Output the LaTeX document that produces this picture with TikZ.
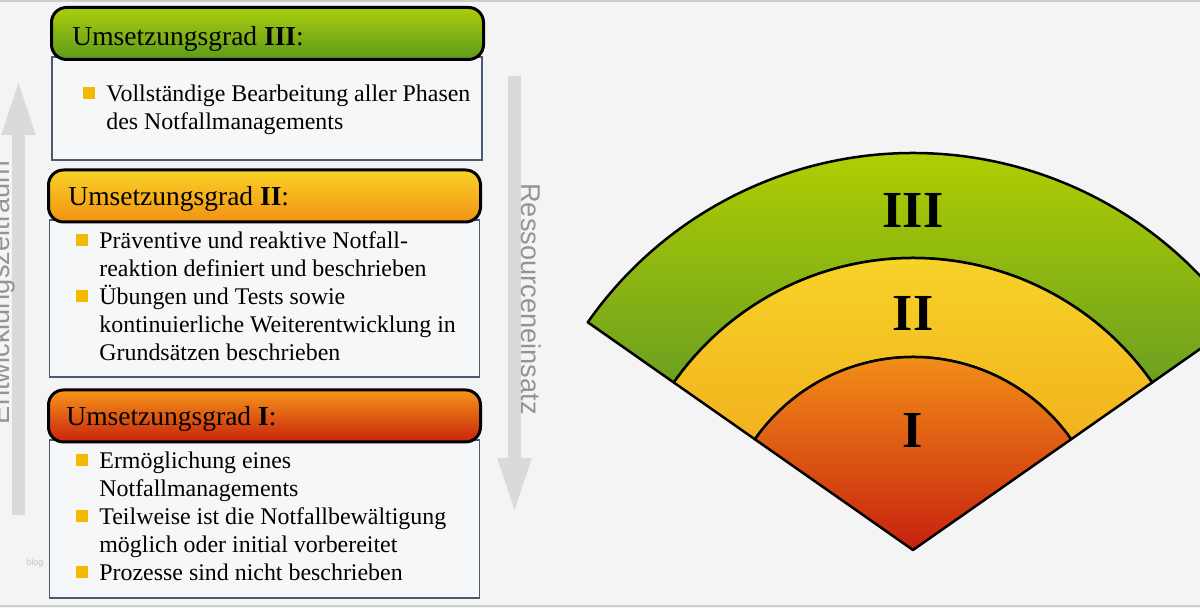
\documentclass[tikz,border=0pt]{standalone}
\usepackage{fontspec}
\setmainfont{Liberation Serif}
\setsansfont{Liberation Sans}
\usetikzlibrary{arrows.meta}
\definecolor{bgpaper}{RGB}{244,244,244}
\definecolor{framegray}{RGB}{205,205,205}
\definecolor{arrowgray}{RGB}{218,218,218}
\definecolor{labelgray}{RGB}{148,148,148}
\definecolor{bloggray}{RGB}{195,195,195}
\definecolor{boxline}{RGB}{76,90,112}
\definecolor{boxfill}{RGB}{246,247,249}
\definecolor{bulletorange}{RGB}{245,186,0}
\definecolor{limetop}{RGB}{172,206,10}
\definecolor{greenbot}{RGB}{92,154,30}
\definecolor{yellowtop}{RGB}{248,210,38}
\definecolor{orangebot}{RGB}{242,146,20}
\definecolor{orangetop}{RGB}{246,150,26}
\definecolor{redbot}{RGB}{200,34,12}
\definecolor{ringlime}{RGB}{178,208,0}
\definecolor{ringgreen}{RGB}{108,160,32}
\definecolor{ringyellow}{RGB}{247,212,40}
\definecolor{ringamber}{RGB}{242,178,30}
\definecolor{coreorange}{RGB}{243,145,24}
\definecolor{corered}{RGB}{200,32,14}
\newcommand{\sqbullet}{\textcolor{bulletorange}{\rule[1.5pt]{6pt}{6pt}}}
\newenvironment{itemrows}{\begin{tabular}[t]{@{}l@{\hspace{5.5pt}}l@{}}}{\end{tabular}}

\begin{document}
\begin{tikzpicture}[x=0.5pt,y=0.5pt,every node/.style={inner sep=0pt},
  head/.style={draw=black,line width=1.5pt,rounded corners=7.5pt,minimum width=216pt,minimum height=26pt},
  body/.style={draw=boxline,line width=0.75pt,fill=boxfill,minimum width=215pt},
  headtext/.style={anchor=base west,font=\fontsize{13.75}{16}\selectfont},
  items/.style={anchor=base west,font=\fontsize{11.95}{14}\selectfont},
  bigarrow/.style={draw=arrowgray,line width=6.5pt,-{Triangle[length=28.5pt,width=15pt]}},
  sidetext/.style={anchor=base,text=labelgray,font=\sffamily\fontsize{13.6}{16}\selectfont},
  ring/.style={draw=black,line width=1.25pt,line join=round},
  grade/.style={font=\bfseries\fontsize{26}{30}\selectfont}]
\path[use as bounding box] (0,0) rectangle (1200,608);
\clip (0,0) rectangle (1200,608);
\fill[bgpaper] (0,0) rectangle (1200,608);
\draw[framegray,line width=0.6pt] (0,607) -- (1200,607);
\draw[framegray,line width=1pt] (0,2) -- (1200,2);

\coordinate (devfoot) at (18.5,93); \coordinate (devtip) at (18.5,530);
\coordinate (resfoot) at (514.5,532); \coordinate (restip) at (514.5,93);
\draw[bigarrow] (devfoot) -- (devtip);
\draw[bigarrow] (resfoot) -- (restip);
\node[sidetext,rotate=90] (dev) at (10,315.5) {Entwicklungszeitraum};
\node[sidetext,rotate=-90] (res) at (521,309) {Ressourceneinsatz};
\node[font=\sffamily\fontsize{4.5}{5}\selectfont,text=bloggray] (blog) at (35,45) {blog};

\node[body,minimum height=51.5pt] (b3) at (267,499.5) {};
\node[head,top color=limetop,bottom color=greenbot] (h3) at (267.5,574.5) {};
\node[headtext] (t3) at (72,562) {Umsetzungsgrad \textbf{III}:};
\node[items] (i3) at (83,506) {\begin{itemrows}
\sqbullet & Vollständige Bearbeitung aller Phasen\\
          & des Notfallmanagements
\end{itemrows}};

\node[body,minimum height=78.5pt] (b2) at (264.5,309.5) {};
\node[head,top color=yellowtop,bottom color=orangebot] (h2) at (264.5,412) {};
\node[headtext] (t2) at (68,402) {Umsetzungsgrad \textbf{II}:};
\node[items] (i2) at (76,359) {\begin{itemrows}
\sqbullet & Präventive und reaktive Notfall-\\
          & reaktion definiert und beschrieben\\
\sqbullet & Übungen und Tests sowie\\
          & kontinuierliche Weiterentwicklung in\\
          & Grundsätzen beschrieben
\end{itemrows}};

\node[body,minimum height=79pt] (b1) at (264.5,89) {};
\node[head,top color=orangetop,bottom color=redbot] (h1) at (264.5,192) {};
\node[headtext] (t1) at (66,182) {Umsetzungsgrad \textbf{I}:};
\node[items] (i1) at (76,139) {\begin{itemrows}
\sqbullet & Ermöglichung eines\\
          & Notfallmanagements\\
\sqbullet & Teilweise ist die Notfallbewältigung\\
          & möglich oder initial vorbereitet\\
\sqbullet & Prozesse sind nicht beschrieben
\end{itemrows}};

\coordinate (apex) at (913,58);
\draw[ring,top color=ringlime,bottom color=ringgreen] ([shift={(apex)}]35:292) arc[start angle=35,end angle=145,radius=292] -- ([shift={(apex)}]145:397) arc[start angle=145,end angle=35,radius=397] -- cycle;
\draw[ring,top color=ringyellow,bottom color=ringamber] ([shift={(apex)}]35:193) arc[start angle=35,end angle=145,radius=193] -- ([shift={(apex)}]145:292) arc[start angle=145,end angle=35,radius=292] -- cycle;
\draw[ring,top color=coreorange,bottom color=corered] (apex) -- ([shift={(apex)}]35:193) arc[start angle=35,end angle=145,radius=193] -- cycle;
\node[grade] (g3) at (913,398) {III};
\node[grade] (g2) at (913,295) {II};
\node[grade] (g1) at (913,178) {I};
\end{tikzpicture}
\end{document}
